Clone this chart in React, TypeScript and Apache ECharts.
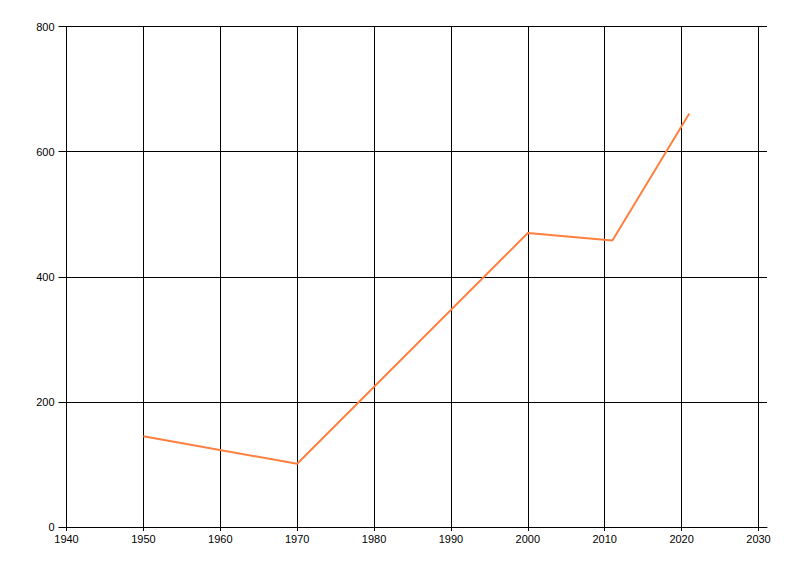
import { useEffect, useRef } from 'react'
import * as echarts from 'echarts'

const years = [1950, 1970, 2000, 2011, 2021]
const values = [145, 101, 470, 458, 661]

const xMin = 1940
const xMax = 2030
const xStep = 10
const yMin = 0
const yMax = 800
const yStep = 200

const FONT = '"Liberation Sans", Arial, sans-serif'

export default function App() {
  const chartRef = useRef<HTMLDivElement | null>(null)

  useEffect(() => {
    if (!chartRef.current) {
      return
    }

    const chart = echarts.init(chartRef.current, undefined, { renderer: 'svg' })

    chart.setOption({
      animation: false,
      backgroundColor: '#ffffff',
      textStyle: { fontFamily: FONT },
      grid: [
        // plot area for the series and the vertical lines
        { left: 66.5, right: 41.5, top: 26.5, bottom: 49, containLabel: false },
        // a slightly wider area so the horizontal lines run past 2030
        { left: 66.5, right: 33, top: 26.5, bottom: 49, containLabel: false },
      ],
      xAxis: [
        {
          gridIndex: 0,
          type: 'value',
          min: xMin,
          max: xMax,
          interval: xStep,
          axisLine: { show: true, lineStyle: { color: '#000', width: 1 } },
          axisTick: { show: true, length: 4, lineStyle: { color: '#000' } },
          axisLabel: {
            color: '#000',
            fontSize: 11,
            fontFamily: FONT,
            margin: 6,
            formatter: (v: number) => String(v),
          },
          splitLine: { show: true, lineStyle: { color: '#000', width: 1 } },
        },
        {
          gridIndex: 1,
          type: 'value',
          min: xMin,
          max: xMax,
          axisLine: { show: true, lineStyle: { color: '#000', width: 1 } },
          axisTick: { show: false },
          axisLabel: { show: false },
          splitLine: { show: false },
        },
      ],
      yAxis: [
        {
          gridIndex: 0,
          type: 'value',
          min: yMin,
          max: yMax,
          interval: yStep,
          show: false,
          splitLine: { show: false },
        },
        {
          gridIndex: 1,
          type: 'value',
          min: yMin,
          max: yMax,
          interval: yStep,
          axisLine: { show: true, lineStyle: { color: '#000', width: 1 } },
          axisTick: { show: true, length: 8, lineStyle: { color: '#000' } },
          axisLabel: {
            color: '#000',
            fontSize: 11,
            fontFamily: FONT,
            margin: 12,
            formatter: (v: number) => String(v),
          },
          splitLine: { show: true, lineStyle: { color: '#000', width: 1 } },
        },
      ],
      series: [
        {
          type: 'line',
          xAxisIndex: 0,
          yAxisIndex: 0,
          data: years.map((y, i) => [y, values[i]]),
          showSymbol: false,
          symbol: 'none',
          lineStyle: { color: '#ff7f3f', width: 2 },
          itemStyle: { color: '#ff7f3f' },
          z: 5,
        },
      ],
    })

    return () => {
      chart.dispose()
    }
  }, [])

  return (
    <div
      ref={chartRef}
      style={{ position: 'fixed', left: 0, top: 0, width: 800, height: 576 }}
    />
  )
}
